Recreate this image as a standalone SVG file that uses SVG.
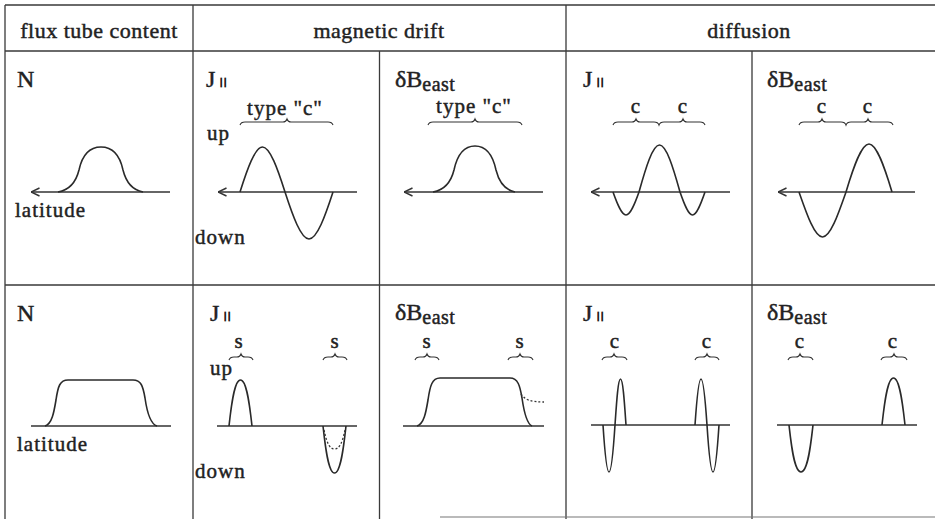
<svg xmlns="http://www.w3.org/2000/svg" width="935" height="519" viewBox="0 0 935 519">
<style>
.grid{stroke:#3a3a3a;stroke-width:1.3;fill:none}
.crv{stroke:#2a2a2a;stroke-width:1.6;fill:none;stroke-linejoin:round}
.ax{stroke:#333;stroke-width:1.5;fill:none}
.br{stroke:#333;stroke-width:1.1;fill:none}
.dot{stroke:#333;stroke-width:1.3;fill:none;stroke-dasharray:2 2}
text{font-family:"Liberation Serif","Times New Roman",serif;fill:#222;stroke:#222;stroke-width:0.45px}
.hd{font-size:22px;letter-spacing:0.5px}
.big{font-size:24px}
.lb{font-size:21px;letter-spacing:1px}
.sub{font-size:20px;letter-spacing:0.5px}
.par{font-size:11px;font-weight:bold;letter-spacing:1.5px;stroke-width:0.8px}
</style>
<defs>
<marker id="arr" viewBox="0 0 10 10" refX="9.5" refY="5" markerWidth="10" markerHeight="10" markerUnits="userSpaceOnUse" orient="auto">
<path d="M1,1 L9.5,5 L1,9" fill="none" stroke="#333" stroke-width="1.4"/>
</marker>
</defs>
<rect width="935" height="519" fill="#ffffff"/>

<g id="grid">
<path class="grid" d="M5,5 H935 M5,51 H935 M5,285 H935 M5,5 V519 M193,5 V519 M566,5 V519 M379.5,51 V519 M752,51 V519"/>
<path d="M440,517 H935" stroke="#777" stroke-width="1.2"/>
</g>

<g id="header">
<text class="hd" x="99" y="38" text-anchor="middle">flux tube content</text>
<text class="hd" x="379" y="38" text-anchor="middle">magnetic drift</text>
<text class="hd" x="749" y="38" text-anchor="middle">diffusion</text>
</g>

<!-- Row 1 -->
<g id="r1-flux">
<text class="big" x="17" y="87">N</text>
<path class="ax" d="M170,192 H31" marker-end="url(#arr)"/>
<path class="crv" d="M58,192 C70,190 76,182 79,170 C82,156 88,147 101,147 C114,147 120,156 123,170 C126,182 132,190 143,192"/>
<text class="lb" x="15" y="217">latitude</text>
</g>

<g id="r1-drift-j">
<text class="big" x="206" y="87">J<tspan class="par" x="220" y="85">||</tspan></text>
<text class="lb" x="285" y="115" text-anchor="middle">type "c"</text>
<path class="br" d="M240,125 Q241,122 245,122 L283,122 Q286,122 287,119 Q288,122 291,122 L328,122 Q332,122 333,125"/>
<text class="lb" x="207" y="140">up</text>
<path class="ax" d="M357,192 H218" marker-end="url(#arr)"/>
<path class="crv" d="M240,192 C247.3,169 255,147 262.5,147 C270,147 277.7,169 285,192 C292.8,216 301,239 309,239 C317,239 325.2,216 333,192"/>
<text class="lb" x="195" y="244">down</text>
</g>

<g id="r1-drift-b">
<text class="big" x="395" y="87">δB<tspan class="sub" y="91">east</tspan></text>
<text class="lb" x="474" y="113" text-anchor="middle">type "c"</text>
<path class="br" d="M428,125 Q429,122 433,122 L471,122 Q474,122 475,119 Q476,122 479,122 L517,122 Q521,122 522,125"/>
<path class="ax" d="M543,192 H404" marker-end="url(#arr)"/>
<path class="crv" d="M433,192 C445,190 451,182 454,170 C457,156 463,146 475,146 C487,146 493,156 496,170 C499,182 505,190 515,192"/>
</g>

<g id="r1-diff-j">
<text class="big" x="583" y="87">J<tspan class="par" x="597" y="85">||</tspan></text>
<text class="lb" x="636" y="113" text-anchor="middle">c</text>
<text class="lb" x="683" y="113" text-anchor="middle">c</text>
<path class="br" d="M613,125 Q614,122 618,122 L632,122 Q635,122 636,119 Q637,122 640,122 L654,122 Q658,122 659,125 Q660,122 664,122 L679,122 Q682,122 683,119 Q684,122 687,122 L700,122 Q704,122 705,125"/>
<path class="ax" d="M730,192 H591" marker-end="url(#arr)"/>
<path class="crv" d="M613,192 C617.2,203.8 621.6,215 626,215 C630.4,215 634.8,203.8 639,192 C645.7,167.9 652.6,145 659.5,145 C666.4,145 673.3,167.9 680,192 C684.1,203.8 688.3,215 692.5,215 C696.7,215 700.9,203.8 705,192"/>
</g>

<g id="r1-diff-b">
<text class="big" x="767" y="87">δB<tspan class="sub" y="91">east</tspan></text>
<text class="lb" x="822" y="113" text-anchor="middle">c</text>
<text class="lb" x="868" y="113" text-anchor="middle">c</text>
<path class="br" d="M799,125 Q800,122 804,122 L818,122 Q821,122 822,119 Q823,122 826,122 L841,122 Q845,122 846,125 Q847,122 851,122 L864,122 Q867,122 868,119 Q869,122 872,122 L888,122 Q892,122 893,125"/>
<path class="ax" d="M915,192 H778" marker-end="url(#arr)"/>
<path class="crv" d="M799,192 C806.7,214 814.6,237 822.5,237 C830.4,237 838.3,214 846,192 C853.5,167 861.3,144 869,144 C876.7,144 884.5,167 892,192"/>
</g>

<!-- Row 2 -->
<g id="r2-flux">
<text class="big" x="17" y="321">N</text>
<path class="ax" d="M31,426 H171"/>
<path class="crv" d="M45,426 C52,424 54,412 56,400 C58,386 60,380 68,380 L133,380 C141,380 143,386 145,398 C147,412 150,424 157,426"/>
<text class="lb" x="17" y="451">latitude</text>
</g>

<g id="r2-drift-j">
<text class="big" x="210" y="321">J<tspan class="par" x="224" y="319">||</tspan></text>
<text class="lb" x="239" y="348" text-anchor="middle">s</text>
<text class="lb" x="335" y="348" text-anchor="middle">s</text>
<path class="br" d="M229,360 Q230,357 234,357 L237,357 Q240,357 241,354 Q242,357 245,357 L248,357 Q252,357 253,360"/>
<path class="br" d="M323,360 Q324,357 328,357 L331,357 Q334,357 335,354 Q336,357 339,357 L342,357 Q346,357 347,360"/>
<text class="lb" x="210" y="375">up</text>
<path class="ax" d="M217,426 H357"/>
<path class="crv" d="M229,426 C231,408 234,380 240.5,380 C247,380 250,408 252,426"/>
<path class="crv" d="M323,426 C325,444 328,473 334.5,473 C341,473 344,444 346,426"/>
<path class="dot" d="M324,430 C327,444 330,449 334.5,449 C339,449 342,444 345,430"/>
<text class="lb" x="195" y="478">down</text>
</g>

<g id="r2-drift-b">
<text class="big" x="395" y="320">δB<tspan class="sub" y="324">east</tspan></text>
<text class="lb" x="427" y="348" text-anchor="middle">s</text>
<text class="lb" x="520" y="348" text-anchor="middle">s</text>
<path class="br" d="M415,360 Q416,357 420,357 L423,357 Q426,357 427,354 Q428,357 431,357 L434,357 Q438,357 439,360"/>
<path class="br" d="M508,360 Q509,357 513,357 L516,357 Q519,357 520,354 Q521,357 524,357 L528,357 Q532,357 533,360"/>
<path class="ax" d="M403,426 H544"/>
<path class="crv" d="M417,426 C424,424 426,412 428,400 C430,386 432,378 440,378 L510,378 C518,378 520,386 522,398 C524,412 527,424 532,426"/>
<path class="dot" d="M521,394 C525,400 531,402 544,402"/>
</g>

<g id="r2-diff-j">
<text class="big" x="583" y="321">J<tspan class="par" x="597" y="319">||</tspan></text>
<text class="lb" x="615" y="348" text-anchor="middle">c</text>
<text class="lb" x="707" y="348" text-anchor="middle">c</text>
<path class="br" d="M602,360 Q603,357 607,357 L610,357 Q613,357 614,354 Q615,357 618,357 L622,357 Q626,357 627,360"/>
<path class="br" d="M695,360 Q696,357 700,357 L703,357 Q706,357 707,354 Q708,357 711,357 L714,357 Q718,357 719,360"/>
<path class="ax" d="M591,425 H730"/>
<path class="crv" d="M603,425 C604.5,448 606.5,472 609,472 C611.5,472 613.5,448 615,425 C616.5,403 618,379 620.5,379 C623,379 624.5,403 626,425"/>
<path class="crv" d="M695,425 C696.5,403 698.5,379 701,379 C703.5,379 705.5,403 707,425 C708.5,448 710.5,472 713,472 C715.5,472 717.5,448 719,425"/>
</g>

<g id="r2-diff-b">
<text class="big" x="767" y="320">δB<tspan class="sub" y="324">east</tspan></text>
<text class="lb" x="800" y="348" text-anchor="middle">c</text>
<text class="lb" x="893" y="348" text-anchor="middle">c</text>
<path class="br" d="M788,360 Q789,357 793,357 L796,357 Q799,357 800,354 Q801,357 804,357 L808,357 Q812,357 813,360"/>
<path class="br" d="M881,360 Q882,357 886,357 L890,357 Q893,357 894,354 Q895,357 898,357 L902,357 Q906,357 907,360"/>
<path class="ax" d="M777,425 H917"/>
<path class="crv" d="M789,425 C791,443 794,472 801,472 C808,472 811,443 813,425"/>
<path class="crv" d="M882,425 C884,407 887,378 893.5,378 C900,378 903,407 905,425"/>
</g>
</svg>
